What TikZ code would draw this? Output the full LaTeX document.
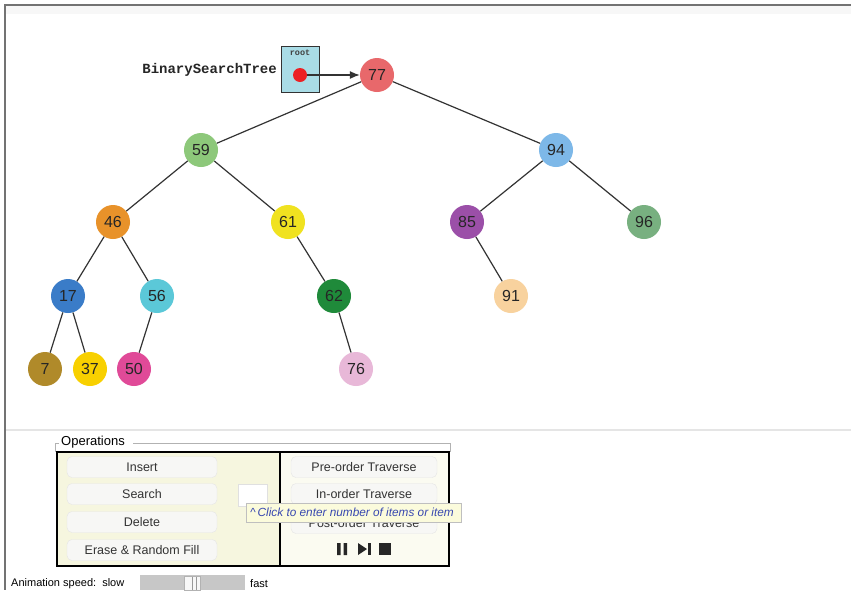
\documentclass[tikz,border=0pt]{standalone}
\usepackage{fontspec}
\setmainfont{Liberation Sans}
\newfontfamily\codefont{Liberation Mono}
\usetikzlibrary{arrows.meta}
\definecolor{edgegray}{HTML}{333333}
\definecolor{panelfill}{HTML}{F6F6DF}
\definecolor{btnfill}{HTML}{F7F7F5}
\definecolor{tipfill}{HTML}{FBFBDC}
\definecolor{tipblue}{HTML}{3848B0}
\definecolor{rootfill}{HTML}{A9DCE6}
\begin{document}
\begin{tikzpicture}[x=1pt,y=-1pt,
  bst/.style={circle,minimum size=34pt,inner sep=0pt,font=\fontsize{16}{16}\selectfont,text=black!85},
  link/.style={draw=edgegray,line width=1.2pt},
  btn/.style={draw=black!10,fill=btnfill,rounded corners=5pt,minimum width=150pt,minimum height=21pt,inner sep=0pt,font=\fontsize{12.5}{13}\selectfont,text=black!80},
  rbtn/.style={btn,minimum width=146pt},
  ui/.style={inner sep=0pt,font=\fontsize{11}{12}\selectfont}]
\useasboundingbox (0,0) rectangle (851,590);
\fill[white] (0,0) rectangle (851,590);
% window frame and separator
\draw[black!55,line width=1.6pt] (851,5) -- (5,5) -- (5,590);
\fill[black!3] (6,6) rectangle (851,14);
\draw[black!10,line width=2pt] (6,430) -- (851,430);

% tree nodes
\node[bst,fill={rgb,255:red,232;green,104;blue,107}] (n77) at (377,75) {77};
\node[bst,fill={rgb,255:red,141;green,200;blue,122}] (n59) at (201,150) {59};
\node[bst,fill={rgb,255:red,125;green,184;blue,232}] (n94) at (556,150) {94};
\node[bst,fill={rgb,255:red,232;green,146;blue,42}] (n46) at (113,222) {46};
\node[bst,fill={rgb,255:red,240;green,226;blue,32}] (n61) at (288,222) {61};
\node[bst,fill={rgb,255:red,155;green,79;blue,168}] (n85) at (467,222) {85};
\node[bst,fill={rgb,255:red,120;green,176;blue,128}] (n96) at (644,222) {96};
\node[bst,fill={rgb,255:red,58;green,124;blue,200}] (n17) at (68,296) {17};
\node[bst,fill={rgb,255:red,91;green,200;blue,216}] (n56) at (157,296) {56};
\node[bst,fill={rgb,255:red,31;green,138;blue,58}] (n62) at (334,296) {62};
\node[bst,fill={rgb,255:red,248;green,210;blue,158}] (n91) at (511,296) {91};
\node[bst,fill={rgb,255:red,176;green,138;blue,42}] (n7) at (45,369) {7};
\node[bst,fill={rgb,255:red,248;green,208;blue,0}] (n37) at (90,369) {37};
\node[bst,fill={rgb,255:red,224;green,74;blue,152}] (n50) at (134,369) {50};
\node[bst,fill={rgb,255:red,232;green,184;blue,216}] (n76) at (356,369) {76};

% tree links
\draw[link] (n77) -- (n59);
\draw[link] (n77) -- (n94);
\draw[link] (n59) -- (n46);
\draw[link] (n59) -- (n61);
\draw[link] (n94) -- (n85);
\draw[link] (n94) -- (n96);
\draw[link] (n46) -- (n17);
\draw[link] (n46) -- (n56);
\draw[link] (n61) -- (n62);
\draw[link] (n85) -- (n91);
\draw[link] (n17) -- (n7);
\draw[link] (n17) -- (n37);
\draw[link] (n56) -- (n50);
\draw[link] (n62) -- (n76);

% root pointer
\node[anchor=east,inner sep=0pt,font=\codefont\bfseries\fontsize{14}{14}\selectfont,text=black!85] (bstlabel) at (277,70) {BinarySearchTree};
\node[draw=black!80,fill=rootfill,line width=0.8pt,minimum width=38pt,minimum height=46pt,inner sep=0pt] (rootbox) at (300,69) {};
\node[inner sep=0pt,font=\codefont\bfseries\fontsize{8.5}{8.5}\selectfont,text=black!75] (roottxt) at (300,53) {root};
\node[circle,fill={rgb,255:red,236;green,32;blue,36},minimum size=14pt,inner sep=0pt] (rootdot) at (300,75) {};
\draw[edgegray,line width=1.2pt,-{Latex[length=10pt,width=8pt]}] (rootdot) -- (n77);

% operations panel
\draw[black!30,line width=0.6pt] (55,452) -- (55,443) -- (59,443);
\draw[black!30,line width=0.6pt] (133,443) -- (450,443) -- (450,452);
\node[ui,anchor=west,font=\fontsize{13}{13}\selectfont] (opstitle) at (61,442) {Operations};
\draw[black,line width=1.8pt,fill=panelfill] (57,452) rectangle (449,566);
\draw[black,line width=1.8pt] (280,452) -- (280,566);
\fill[white!55!panelfill] (281,453) rectangle (448,565);

\node[btn] (insert) at (142,467) {Insert};
\node[btn] (search) at (142,494) {Search};
\node[btn] (delete) at (142,522) {Delete};
\node[btn] (erase) at (142,550) {Erase \& Random Fill};
\node[draw=black!12,fill=white,minimum width=29pt,minimum height=22pt,inner sep=0pt] (itembox) at (253,495) {};

\node[rbtn] (preorder) at (364,467) {Pre-order Traverse};
\node[rbtn] (inorder) at (364,494) {In-order Traverse};
\node[rbtn] (postorder) at (364,523) {Post-order Traverse};

% playback controls
\fill[black!85] (337,543) rectangle (340.5,555) (343.5,543) rectangle (347,555);
\fill[black!85] (358,543) -- (367,549) -- (358,555) -- cycle;
\fill[black!85] (367.5,543) rectangle (370.5,555);
\fill[black!85] (379,543) rectangle (391,555);
\coordinate (ctrls) at (364,549);

% tooltip
\node[draw=black!25,fill=tipfill,minimum width=215pt,minimum height=19pt,inner sep=0pt,anchor=west] (tooltip) at (246,512.5) {};
\node[ui,anchor=west,text=tipblue,font=\itshape\fontsize{11.8}{12}\selectfont] (tiptext) at (250,512.5) {\textasciicircum\,Click to enter number of items or item};

% animation speed slider
\node[ui,anchor=west] (speedlbl) at (11,584) {Animation speed:\ \ slow};
\fill[black!22] (140,575) rectangle (245,590);
\node[draw=black!30,fill=black!3,minimum width=16pt,minimum height=14pt,inner sep=0pt] (thumb) at (192,583) {};
\draw[black!40,line width=0.6pt] (192,577) -- (192,590) (196,577) -- (196,590);
\node[ui,anchor=west] (fastlbl) at (250,584) {fast};
\end{tikzpicture}
\end{document}
